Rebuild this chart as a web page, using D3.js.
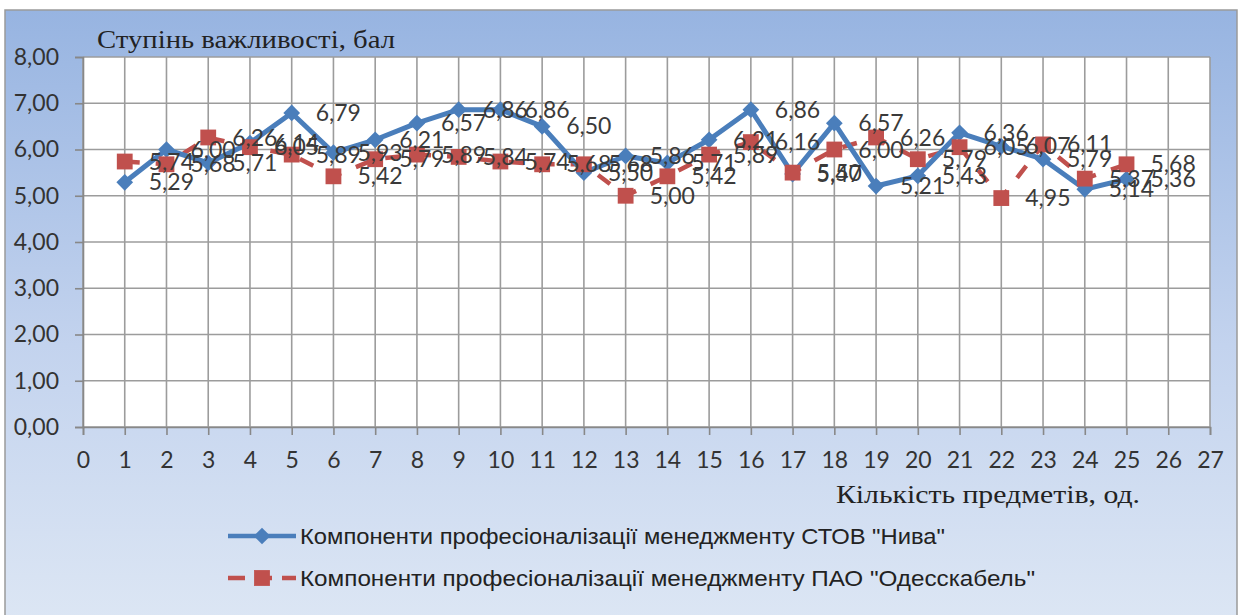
<!DOCTYPE html>
<html>
<head>
<meta charset="utf-8">
<script src="https://cdn.jsdelivr.net/npm/d3@7"></script>
<style>
  body { margin: 0; background: #fff; }
  svg { display: block; }
</style>
</head>
<body>
<svg id="chart" width="1240" height="615"></svg>
<script>
// номери компонентів
const items = d3.range(1, 26);

const niva = [5.29, 6.00, 5.71, 6.14, 6.79, 5.93, 6.21, 6.57, 6.86, 6.86, 6.50, 5.50, 5.86,
  5.71, 6.21, 6.86, 5.47, 6.57, 5.21, 5.43, 6.36, 6.07, 5.79, 5.14, 5.36];

const odesskabel = [5.74, 5.68, 6.26, 6.05, 5.89, 5.42, 5.79, 5.89, 5.84, 5.74, 5.68, 5.68, 5.00,
  5.42, 5.89, 6.16, 5.50, 6.00, 6.26, 5.79, 6.05, 4.95, 6.11, 5.37, 5.68];

const xTicks = d3.range(0, 28);
const yTicks = d3.range(0, 9);

const seriesNames = [
  'Компоненти професіоналізації менеджменту СТОВ "Нива"',
  'Компоненти професіоналізації менеджменту ПАО "Одесскабель"'
];
const yTitle = 'Ступінь важливості, бал';
const xTitle = 'Кількість предметів, од.';

const colors = { niva: '#4a7ebb', odes: '#c0504d' };
const fmt = v => d3.format('.2f')(v).replace('.', ',');

const svg = d3.select('#chart');

// фон діаграми
const defs = svg.append('defs');
const grad = defs.append('linearGradient')
  .attr('id', 'bg').attr('x1', 0).attr('y1', 0).attr('x2', 0).attr('y2', 1);
grad.append('stop').attr('offset', '0%').attr('stop-color', '#97b4e1');
grad.append('stop').attr('offset', '55%').attr('stop-color', '#c3d3ee');
grad.append('stop').attr('offset', '100%').attr('stop-color', '#dce6f4');

svg.append('rect')
  .attr('x', 5).attr('y', 10).attr('width', 1232).attr('height', 610)
  .attr('fill', 'url(#bg)')
  .attr('stroke', '#9a9a9a').attr('stroke-width', 1.5);

const x = d3.scaleLinear().domain([0, 27]).range([83, 1210]);
const y = d3.scaleLinear().domain([0, 8]).range([427, 57]);

// область побудови
svg.append('rect')
  .attr('x', x(0)).attr('y', y(8))
  .attr('width', x(27) - x(0)).attr('height', y(0) - y(8))
  .attr('fill', '#fff');

const grid = svg.append('g');
grid.selectAll('.vg').data(xTicks).join('line')
  .attr('x1', d => x(d)).attr('x2', d => x(d))
  .attr('y1', y(8)).attr('y2', y(0))
  .attr('stroke', '#9c9c9c').attr('stroke-width', 1.6);
grid.selectAll('.hg').data(yTicks).join('line')
  .attr('x1', x(0)).attr('x2', x(27))
  .attr('y1', d => y(d)).attr('y2', d => y(d))
  .attr('stroke', '#9c9c9c').attr('stroke-width', 1.6);

const xAxis = d3.axisBottom(x).tickValues(xTicks).tickSize(8).tickPadding(17).tickFormat(d3.format('d'));
const yAxis = d3.axisLeft(y).tickValues(yTicks).tickSize(8).tickPadding(16).tickFormat(fmt);

const gx = svg.append('g').attr('transform', `translate(0,${y(0)})`).call(xAxis);
const gy = svg.append('g').attr('transform', `translate(${x(0)},0)`).call(yAxis);

[gx, gy].forEach(g => {
  g.select('.domain').attr('stroke', '#888').attr('stroke-width', 1.6);
  g.selectAll('.tick line').attr('stroke', '#888').attr('stroke-width', 1.6);
  g.selectAll('.tick text')
    .attr('fill', '#333')
    .style('font-family', 'Lato, sans-serif')
    .style('font-size', '23px');
});
gx.selectAll('.tick text').attr('dy', '0.71em');

// назви осей
svg.append('text')
  .attr('x', 97).attr('y', 48)
  .attr('textLength', 298).attr('lengthAdjust', 'spacingAndGlyphs')
  .style('font-family', '"Liberation Serif", serif')
  .style('font-size', '25px')
  .attr('fill', '#222')
  .text(yTitle);

svg.append('text')
  .attr('x', 836).attr('y', 503)
  .attr('textLength', 304).attr('lengthAdjust', 'spacingAndGlyphs')
  .style('font-family', '"Liberation Serif", serif')
  .style('font-size', '25px')
  .attr('fill', '#222')
  .text(xTitle);

const diamond = d3.symbol().type(d3.symbolSquare).size(140);
const square = d3.symbol().type(d3.symbolSquare).size(250);

const line = d3.line()
  .x((d, i) => x(items[i]))
  .y(d => y(d));

// Одесскабель (пунктир з квадратами)
svg.append('path')
  .datum(odesskabel)
  .attr('fill', 'none')
  .attr('stroke', colors.odes)
  .attr('stroke-width', 4.5)
  .attr('stroke-dasharray', '15,16')
  .attr('d', line);

// Нива (суцільна з ромбами)
svg.append('path')
  .datum(niva)
  .attr('fill', 'none')
  .attr('stroke', colors.niva)
  .attr('stroke-width', 5)
  .attr('stroke-linejoin', 'round')
  .attr('d', line);

svg.append('g').selectAll('path').data(niva).join('path')
  .attr('d', diamond)
  .attr('fill', colors.niva)
  .attr('transform', (d, i) => `translate(${x(items[i])},${y(d)}) rotate(45)`);

svg.append('g').selectAll('path').data(odesskabel).join('path')
  .attr('d', square)
  .attr('fill', colors.odes)
  .attr('transform', (d, i) => `translate(${x(items[i])},${y(d)})`);

// підписи даних
const labelStyle = sel => sel
  .attr('dy', '0.35em')
  .attr('fill', '#3a3a3a')
  .style('font-family', 'Lato, sans-serif')
  .style('font-size', '23px');

svg.append('g').selectAll('text').data(niva).join('text')
  .attr('x', (d, i) => x(items[i]) + 24)
  .attr('y', d => y(d))
  .call(labelStyle)
  .text(fmt);

svg.append('g').selectAll('text').data(odesskabel).join('text')
  .attr('x', (d, i) => x(items[i]) + 24)
  .attr('y', d => y(d))
  .call(labelStyle)
  .text(fmt);

// легенда
const legend = svg.append('g');
const legendRows = [
  { name: seriesNames[0], color: colors.niva, dash: null, symbol: diamond, rot: 45, y: 536, w: 645 },
  { name: seriesNames[1], color: colors.odes, dash: '17,10', symbol: square, rot: 0, y: 578, w: 735 }
];
legendRows.forEach(r => {
  legend.append('line')
    .attr('x1', 228).attr('x2', 296)
    .attr('y1', r.y).attr('y2', r.y)
    .attr('stroke', r.color).attr('stroke-width', 4.5)
    .attr('stroke-dasharray', r.dash);
  legend.append('path')
    .attr('d', r.symbol)
    .attr('fill', r.color)
    .attr('transform', `translate(262,${r.y}) rotate(${r.rot})`);
  legend.append('text')
    .attr('x', 300).attr('y', r.y)
    .attr('dy', '0.35em')
    .attr('textLength', r.w).attr('lengthAdjust', 'spacingAndGlyphs')
    .attr('fill', '#222')
    .style('font-family', '"Liberation Sans Narrow", "Liberation Sans", sans-serif')
    .style('font-size', '22px')
    .text(r.name);
});
</script>
</body>
</html>
